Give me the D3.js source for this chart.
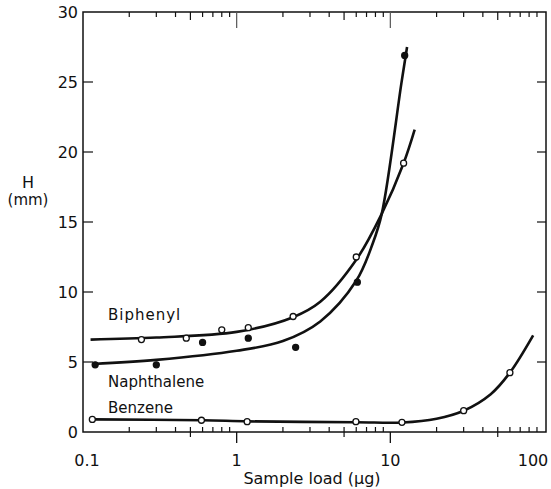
<!DOCTYPE html>
<html>
<head>
<meta charset="utf-8">
<script src="https://cdn.jsdelivr.net/npm/d3@7"></script>
<style>
  body { margin: 0; background: #fff; }
  text { font-family: "DejaVu Sans", sans-serif; fill: #111; }
</style>
</head>
<body>
<svg id="chart" width="551" height="489"></svg>
<script>
// measured points, [sample load (ug), H (mm)]
var biphenylPts = [[0.24, 6.6], [0.47, 6.7], [0.8, 7.3], [1.19, 7.45], [2.33, 8.25], [6.0, 12.5], [12.2, 19.2]];
var naphthalenePts = [[0.12, 4.8], [0.3, 4.8], [0.6, 6.4], [1.19, 6.7], [2.42, 6.05], [6.1, 10.7], [12.4, 26.9]];
var benzenePts = [[0.115, 0.9], [0.59, 0.84], [1.17, 0.74], [5.97, 0.74], [11.9, 0.69], [30, 1.52], [60, 4.24]];

// hand-drawn fit curves
var biphenylFit = [[0.112, 6.6], [0.3, 6.75], [1, 7.15], [2.33, 8.2], [3.5, 9.3], [6, 12.3], [8.8, 15.6], [12.2, 19.2], [14.4, 21.6]];
var naphthaleneFit = [[0.116, 4.86], [0.3, 5.15], [1, 5.8], [2, 6.5], [3.5, 7.9], [6, 10.8], [7.7, 13.5], [8.8, 15.6], [11.8, 24.9], [12.85, 27.5]];
var benzeneFit = [[0.115, 0.9], [0.6, 0.84], [1.2, 0.76], [6, 0.7], [12, 0.68], [20, 0.95], [30, 1.52], [45, 2.7], [60, 4.24], [85, 6.9]];

var yTicks = [0, 5, 10, 15, 20, 25, 30];
var xMajor = [0.1, 1, 10, 100];
var xLabels = ["0.1", "1", "10", "100"];
var xMinor = [0.2, 0.3, 0.4, 0.5, 0.6, 0.7, 0.8, 0.9, 2, 3, 4, 5, 6, 7, 8, 9, 20, 30, 40, 50, 60, 70, 80, 90];

var svg = d3.select("#chart");

var x = d3.scaleLog().domain([0.1, 100]).range([83, 544]);
var y = d3.scaleLinear().domain([0, 30]).range([432, 12]);

var pLeft = 83, pRight = 546, pTop = 12, pBottom = 432;
var isMid = d => d == 0.5 || d == 5 || d == 50;

// frame
svg.append("rect")
    .attr("x", pLeft).attr("y", pTop)
    .attr("width", pRight - pLeft).attr("height", pBottom - pTop)
    .attr("fill", "none").attr("stroke", "#111").attr("stroke-width", 1.5);

// bottom ticks
svg.selectAll(".bminor").data(xMinor).enter().append("line")
    .attr("x1", d => x(d)).attr("x2", d => x(d))
    .attr("y1", pBottom - 5)
    .attr("y2", d => isMid(d) ? pBottom + 5 : pBottom)
    .attr("stroke", "#111").attr("stroke-width", 1.2);
svg.selectAll(".bmajor").data([1, 10]).enter().append("line")
    .attr("x1", d => x(d)).attr("x2", d => x(d))
    .attr("y1", pBottom).attr("y2", pBottom + 11)
    .attr("stroke", "#111").attr("stroke-width", 1.3);

// top ticks
svg.selectAll(".tminor").data(xMinor).enter().append("line")
    .attr("x1", d => x(d)).attr("x2", d => x(d))
    .attr("y1", pTop).attr("y2", d => isMid(d) ? pTop + 8 : pTop + 5)
    .attr("stroke", "#111").attr("stroke-width", 1.2);
svg.selectAll(".tmajor").data([1, 10]).enter().append("line")
    .attr("x1", d => x(d)).attr("x2", d => x(d))
    .attr("y1", pTop).attr("y2", pTop + 16)
    .attr("stroke", "#555").attr("stroke-width", 1.2);

// left / right ticks
var inner = yTicks.filter(d => d > 0 && d < 30);
svg.selectAll(".lt").data(inner).enter().append("line")
    .attr("x1", pLeft).attr("x2", pLeft + 10)
    .attr("y1", d => y(d)).attr("y2", d => y(d))
    .attr("stroke", "#111").attr("stroke-width", 1.2);
svg.selectAll(".rt").data(inner).enter().append("line")
    .attr("x1", pRight - 9).attr("x2", pRight)
    .attr("y1", d => y(d)).attr("y2", d => y(d))
    .attr("stroke", "#111").attr("stroke-width", 1.2);

// y tick labels
svg.selectAll(".yl").data(yTicks).enter().append("text")
    .attr("x", pLeft - 5).attr("y", d => y(d)).attr("dy", "0.36em")
    .attr("text-anchor", "end").attr("font-size", 16)
    .text(d => d);

// x tick labels
svg.selectAll(".xl").data(xMajor).enter().append("text")
    .attr("x", (d, i) => i == 3 ? x(d) - 11 : x(d) + (i == 0 ? 4 : 0))
    .attr("y", 466)
    .attr("text-anchor", "middle").attr("font-size", 16)
    .text((d, i) => xLabels[i]);

// axis titles
svg.append("text").attr("x", 312).attr("y", 484).attr("text-anchor", "middle")
    .attr("font-size", 16).text("Sample load (\u03bcg)");
svg.append("text").attr("x", 28).attr("y", 188).attr("text-anchor", "middle")
    .attr("font-size", 16).text("H");
svg.append("text").attr("x", 28).attr("y", 205).attr("text-anchor", "middle")
    .attr("font-size", 15).text("(mm)");

// fit curves
var line = d3.line()
    .x(d => x(d[0])).y(d => y(d[1]))
    .curve(d3.curveCatmullRom.alpha(0.5));

[biphenylFit, naphthaleneFit, benzeneFit].forEach(function(s) {
  svg.append("path").datum(s)
      .attr("d", line)
      .attr("fill", "none").attr("stroke", "#111").attr("stroke-width", 2.6);
});

// markers
function drawPts(pts, filled) {
  svg.append("g").selectAll("circle").data(pts).enter().append("circle")
      .attr("cx", d => x(d[0])).attr("cy", d => y(d[1]))
      .attr("r", 3)
      .attr("fill", filled ? "#111" : "#fff")
      .attr("stroke", "#111").attr("stroke-width", 1.3);
}
drawPts(biphenylPts, false);
drawPts(naphthalenePts, true);
drawPts(benzenePts, false);

// series labels
svg.append("text").attr("x", 108).attr("y", 320).attr("font-size", 15)
    .attr("letter-spacing", 1).text("Biphenyl");
svg.append("text").attr("x", 108).attr("y", 387).attr("font-size", 15).text("Naphthalene");
svg.append("text").attr("x", 108).attr("y", 413).attr("font-size", 15).text("Benzene");
</script>
</body>
</html>
